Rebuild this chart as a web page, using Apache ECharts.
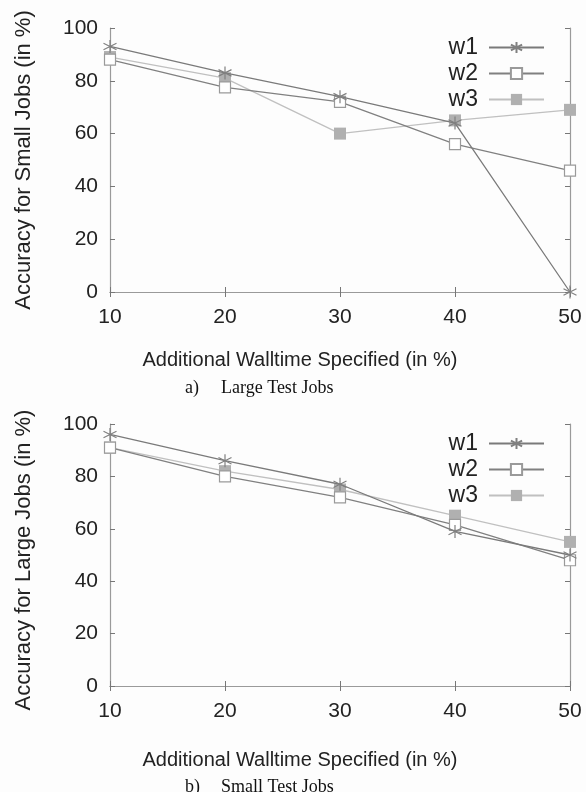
<!DOCTYPE html>
<html>
<head>
<meta charset="utf-8">
<script src="https://cdn.jsdelivr.net/npm/echarts@6/dist/echarts.min.js"></script>
<style>html,body{margin:0;padding:0;background:#fdfdfd;}#c{width:586px;height:792px;}</style>
</head>
<body>
<div id="c"></div>
<script>
const xValues = [10, 20, 30, 40, 50];
const seriesNames = ['w1', 'w2', 'w3'];
// a) Large Test Jobs (accuracy for small jobs)
const topW1 = [93, 83, 74, 64, 0];
const topW2 = [88, 77.5, 72, 56, 46];
const topW3 = [89, 81, 60, 65, 69];
// b) Small Test Jobs (accuracy for large jobs)
const botW1 = [96, 86, 77, 59, 50];
const botW2 = [91, 80, 72, 61.5, 48];
const botW3 = [91, 82, 75, 65, 55];
const yTitles = ['Accuracy for Small Jobs (in %)', 'Accuracy for Large Jobs (in %)'];
const xTitle = 'Additional Walltime Specified (in %)';
const captions = [['a)', 'Large Test Jobs'], ['b)', 'Small Test Jobs']];

const FONT = '"Liberation Sans", Arial, sans-serif';
const SERIF = '"Liberation Serif", "Times New Roman", serif';
const asterisk = 'path://M0,-10L0,10M-8.66,-5L8.66,5M-8.66,5L8.66,-5';

const styles = [
  {line: '#7a7a7a', symbol: asterisk, size: 13, item: {color: 'none', borderColor: '#808080', borderWidth: 1.2}},
  {line: '#808080', symbol: 'rect', size: 11, item: {color: '#ffffff', borderColor: '#9a9a9a', borderWidth: 1.2}},
  {line: '#c0c0c0', symbol: 'rect', size: 12, item: {color: '#b0b0b0', borderColor: '#b0b0b0', borderWidth: 0}}
];

const grids = [
  {left: 110, top: 28, width: 460, height: 264},
  {left: 110, top: 424, width: 460, height: 262}
];

const xAxes = [], yAxes = [], series = [], legends = [];
const axisLine = {show: true, lineStyle: {color: '#9a9a9a', width: 1.2}};
const tick = {show: true, inside: true, length: 5, lineStyle: {color: '#777'}};
grids.forEach((g, gi) => {
  xAxes.push({type: 'value', gridIndex: gi, min: 10, max: 50, interval: 10, position: 'bottom',
    axisLine, axisTick: tick,
    axisLabel: {fontFamily: FONT, fontSize: 21, color: '#222', margin: 15},
    splitLine: {show: false}});
  xAxes.push({type: 'value', gridIndex: gi, min: 10, max: 50, interval: 10, position: 'top',
    axisLine, axisTick: tick, axisLabel: {show: false}, splitLine: {show: false}});
  yAxes.push({type: 'value', gridIndex: gi, min: 0, max: 100, interval: 20, position: 'left',
    axisLine, axisTick: tick,
    axisLabel: {fontFamily: FONT, fontSize: 21, color: '#222', margin: 12},
    splitLine: {show: false}});
  yAxes.push({type: 'value', gridIndex: gi, min: 0, max: 100, interval: 20, position: 'right',
    axisLine, axisTick: tick, axisLabel: {show: false}, splitLine: {show: false}});
});

const dataSets = [[topW1, topW2, topW3], [botW1, botW2, botW3]];
dataSets.forEach((set, gi) => {
  set.forEach((vals, si) => {
    const s = styles[si];
    series.push({
      name: seriesNames[si], type: 'line', xAxisIndex: gi * 2, yAxisIndex: gi * 2,
      data: xValues.map((x, i) => [x, vals[i]]),
      symbol: s.symbol, symbolSize: s.size, showAllSymbol: true,
      lineStyle: {color: s.line, width: 1.3},
      itemStyle: s.item, z: 3 - si, silent: true, animation: false
    });
  });
});

[31, 427].forEach((t) => {
  legends.push({
    data: seriesNames, orient: 'vertical', right: 36, top: t, align: 'right',
    itemWidth: 55, itemHeight: 14, itemGap: 3, selectedMode: false,
    textStyle: {fontFamily: FONT, fontSize: 23, color: '#222', padding: [0, 6, 0, 0]}
  });
});

const graphics = [];
[[24, 160], [24, 560]].forEach((p, i) => {
  graphics.push({type: 'text', x: p[0], y: p[1], rotation: Math.PI / 2,
    style: {text: yTitles[i], font: '22px ' + FONT, fill: '#222', textAlign: 'center', textVerticalAlign: 'middle'}});
});
[360, 760].forEach((y) => {
  graphics.push({type: 'text', x: 300, y: y,
    style: {text: xTitle, font: '20px ' + FONT, fill: '#222', textAlign: 'center', textVerticalAlign: 'middle'}});
});
[388, 787].forEach((y, i) => {
  graphics.push({type: 'text', x: 185, y: y,
    style: {text: captions[i][0], font: '18px ' + SERIF, fill: '#111', textAlign: 'left', textVerticalAlign: 'middle'}});
  graphics.push({type: 'text', x: 221, y: y,
    style: {text: captions[i][1], font: '18px ' + SERIF, fill: '#111', textAlign: 'left', textVerticalAlign: 'middle'}});
});

const chart = echarts.init(document.getElementById('c'), null, {renderer: 'canvas'});
chart.setOption({
  backgroundColor: '#fdfdfd',
  animation: false,
  grid: grids,
  xAxis: xAxes,
  yAxis: yAxes,
  legend: legends,
  series: series,
  graphic: graphics
});
</script>
</body>
</html>
